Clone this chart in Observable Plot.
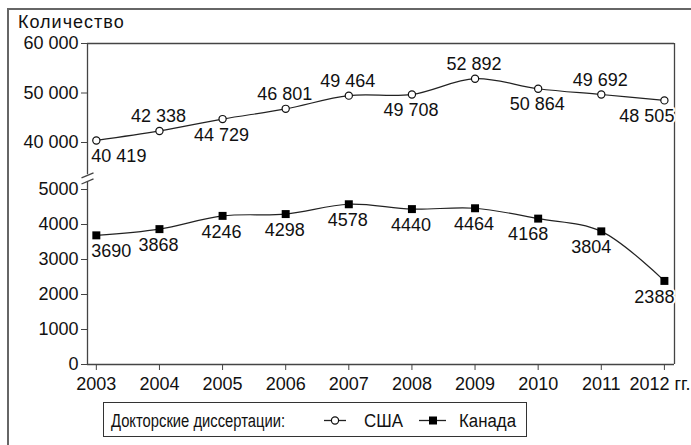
<!DOCTYPE html>
<html><head><meta charset="utf-8">
<script src="https://cdn.jsdelivr.net/npm/d3@7"></script>
<script src="https://cdn.jsdelivr.net/npm/@observablehq/plot@0.6"></script>
<style>
body{margin:0;background:#fff;font-family:"Liberation Sans",Arial,sans-serif;color:#111;}
#wrap{position:relative;width:691px;height:445px;overflow:hidden;background:#fff;}
#outer{position:absolute;left:7px;top:8px;width:700px;height:460px;border-left:2px solid #666;border-top:2px solid #666;}
#title{position:absolute;left:18px;top:13px;font-size:18px;line-height:18px;white-space:nowrap;letter-spacing:1px;}
#chart{position:absolute;left:0;top:0;}
#legend{position:absolute;left:103px;top:402px;width:424px;height:35px;box-sizing:border-box;border:1px solid #333;background:#fff;}
#legend svg{position:absolute;left:0;top:0;}
</style></head>
<body>
<div id="wrap">
  <div id="outer"></div>
  <div id="chart"></div>
  <div id="title">Количество</div>
  <div id="legend"></div>
</div>
<script>
const years = [2003, 2004, 2005, 2006, 2007, 2008, 2009, 2010, 2011, 2012];
const usa = [40419, 42338, 44729, 46801, 49464, 49708, 52892, 50864, 49692, 48505];
const canada = [3690, 3868, 4246, 4298, 4578, 4440, 4464, 4168, 3804, 2388];
const usaLabelSide = ["below","above","below","above","above","below","above","below","above","below"];
const canadaLabelSide = ["below","below","below","below","below","below","below","below","below","below"];
const usaLabelAnchor = ["start","middle","middle","middle","middle","middle","middle","middle","middle","end"];
const canadaLabelAnchor = ["start","middle","middle","middle","middle","middle","middle","end","end","end"];
const yTicks = [0, 1000, 2000, 3000, 4000, 5000, 40000, 50000, 60000];
const xTickLabels = ["2003","2004","2005","2006","2007","2008","2009","2010","2011","2012 гг."];
const legendTitle = "Докторские диссертации:";
const seriesNames = ["США", "Канада"];

const xDomain = [2002.86, 2012.16];
const yDomain = [0, 5000, 40000, 60000];
const breakLow = 11000, breakHigh = 16000;

const fmt = d => d >= 10000 ? String(d).replace(/\B(?=(\d{3})+(?!\d))/g, " ") : String(d);

const usaRows = years.map((year, i) => ({year, value: usa[i], side: usaLabelSide[i], anchor: usaLabelAnchor[i]}));
const canRows = years.map((year, i) => ({year, value: canada[i], side: canadaLabelSide[i], anchor: canadaLabelAnchor[i]}));

function labelMarks(rows) {
  const marks = [];
  for (const side of ["above", "below"]) {
    for (const anchor of ["start", "middle", "end"]) {
      const sub = rows.filter(r => r.side === side && r.anchor === anchor);
      if (!sub.length) continue;
      marks.push(Plot.text(sub, {
        x: "year", y: "value", text: d => fmt(d.value),
        textAnchor: anchor,
        dx: anchor === "start" ? -5 : anchor === "end" ? 10 : -1,
        dy: side === "above" ? -14.5 : 16,
        fill: "#111", stroke: "white", strokeWidth: 4, paintOrder: "stroke"
      }));
    }
  }
  return marks;
}

const xMin = xDomain[0], xMax = xDomain[1];
const frameColor = "#444";

const chart = Plot.plot({
  width: 691, height: 400,
  marginTop: 43, marginBottom: 36, marginLeft: 87, marginRight: 17,
  style: {fontSize: "18px", fontFamily: "'Liberation Sans', Arial, sans-serif", color: "#111", background: "transparent", overflow: "visible"},
  x: {type: "linear", domain: xDomain, axis: null},
  y: {type: "linear", domain: yDomain, range: [364, 189, 142, 43], axis: null},
  marks: [
    Plot.ruleY([60000], {stroke: frameColor, strokeWidth: 1.3}),
    Plot.ruleY([0], {stroke: frameColor, strokeWidth: 1.3}),
    Plot.ruleX([xMax], {stroke: frameColor, strokeWidth: 1.3}),
    Plot.ruleX([[0, breakLow], [breakHigh, 60000]], {x: () => xMin, y1: d => d[0], y2: d => d[1], stroke: frameColor, strokeWidth: 1.3}),
    Plot.link([breakLow, breakHigh - 500], {x1: () => xMin - 0.095, x2: () => xMin + 0.095, y1: d => d - 1900, y2: d => d + 1900, stroke: frameColor, strokeWidth: 1.3}),
    Plot.axisY(yTicks, {tickFormat: fmt, tickSize: 6, tickPadding: 3, stroke: frameColor, label: null}),
    Plot.axisX(years, {tickFormat: (d, i) => i === years.length - 1 ? "" : xTickLabels[i], tickSize: 6, tickPadding: 7, stroke: frameColor, label: null}),
    Plot.text([years.length - 1], {x: i => years[i], y: () => 0, text: i => xTickLabels[i], textAnchor: "end", dx: 26, dy: 19.5, fill: "#111"}),
    Plot.line(usaRows, {x: "year", y: "value", curve: "catmull-rom", stroke: "#222", strokeWidth: 1.2}),
    Plot.line(canRows, {x: "year", y: "value", curve: "catmull-rom", stroke: "#222", strokeWidth: 1.2}),
    Plot.dot(usaRows, {x: "year", y: "value", r: 3.6, fill: "white", stroke: "#111", strokeWidth: 1.2}),
    Plot.dot(canRows, {x: "year", y: "value", symbol: "square", r: 4.5, fill: "#000"}),
    ...labelMarks(usaRows),
    ...labelMarks(canRows)
  ]
});
document.getElementById("chart").appendChild(chart);

const legend = document.getElementById("legend");
legend.innerHTML = `
<svg width="424" height="35" style="font-family:'Liberation Sans',Arial,sans-serif;font-size:18px">
<text x="7" y="24" textLength="174" lengthAdjust="spacingAndGlyphs" fill="#111">${legendTitle}</text>
<line x1="220" y1="17.5" x2="242" y2="17.5" stroke="#222" stroke-width="1.3"/><circle cx="231" cy="17.5" r="3.6" fill="white" stroke="#111" stroke-width="1.2"/>
<text x="260" y="24" textLength="39" lengthAdjust="spacingAndGlyphs" fill="#111">${seriesNames[0]}</text>
<line x1="315" y1="17.5" x2="342" y2="17.5" stroke="#222" stroke-width="1.3"/><rect x="325" y="13.5" width="8" height="8" fill="#000"/>
<text x="355" y="24" textLength="57" lengthAdjust="spacingAndGlyphs" fill="#111">${seriesNames[1]}</text>
</svg>`;
</script>
</body></html>
